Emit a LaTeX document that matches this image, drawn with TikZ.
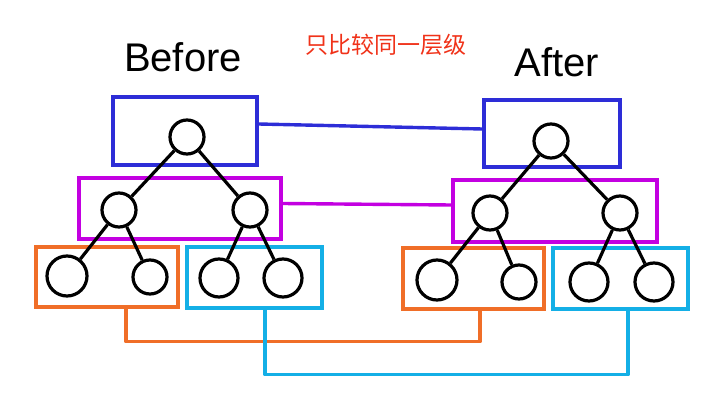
\documentclass[tikz,border=0pt]{standalone}
\usepackage{fontspec}
\setmainfont{Liberation Sans}
\newfontfamily\cjk{Noto Sans CJK SC}
\definecolor{levelblue}{RGB}{45,45,215}
\definecolor{levelpurple}{RGB}{195,0,225}
\definecolor{levelorange}{RGB}{240,110,40}
\definecolor{levelcyan}{RGB}{20,175,230}
\definecolor{notered}{RGB}{240,50,25}
\begin{document}
\begin{tikzpicture}
[x=1pt,y=-1pt,
  nodedecorate/.style={shape=circle,inner sep=0pt,draw,line width=3.2pt},%
  linedecorate/.style={-,line width=3.2pt},
  boxdecorate/.style={shape=rectangle,inner sep=0pt,draw,line width=3.4pt},
  joindecorate/.style={-,line width=3.4pt,line join=round}]
\useasboundingbox (0,0) rectangle (726,404);
%% titles
\node (before) at (183,57) {\fontsize{40}{40}\selectfont Before};
\node (after) at (557,62) {\fontsize{40}{40}\selectfont After};
\node[text=notered] (note) at (386,45) {\cjk\fontsize{23}{23}\selectfont 只比较同一层级};
%% level boxes
\foreach \boxname/\x/\y/\w/\h/\colour in {bl/185/131/144/68/levelblue,
  br/552/133.5/136/67/levelblue, pl/180/208.5/202/61/levelpurple,
  pr/555/211/204/62/levelpurple, ol/107/277/142/60/levelorange,
  cl/254.5/277.5/135/61/levelcyan, or/473.5/278.5/141/61/levelorange,
  cr/620.5/278.5/135/61/levelcyan}
{
  \node (\boxname) at (\x,\y) [boxdecorate,draw=\colour,minimum width=\w,
    minimum height=\h] {};
}
%% nodes or vertices
\foreach \nodename/\x/\y/\r in {rl/187/137/17, al/119/210/17, bl2/250/210/17,
  cl1/67/276/20, cl2/150/277/17, cl3/219/278/19, cl4/283/278/19,
  rr/551/141/17, ar/490/213/17, br2/620/213/17,
  cr1/437/280/20, cr2/519/282/17, cr3/589/282/19, cr4/654/282/19}
{
  \node (\nodename) at (\x,\y) [nodedecorate,minimum size=2*\r] {};
}
%% edges or lines
\path
\foreach \startnode/\endnode in {rl/al, rl/bl2, al/cl1, al/cl2, bl2/cl3,
  bl2/cl4, rr/ar, rr/br2, ar/cr1, ar/cr2, br2/cr3, br2/cr4} {
  (\startnode) edge[linedecorate] (\endnode)
};
%% level links
\draw[joindecorate,levelblue] ([yshift=7pt]bl.east) -- ([yshift=4.5pt]br.west);
\draw[joindecorate,levelpurple] ([yshift=5pt]pl.east) -- ([yshift=6pt]pr.west);
\draw[joindecorate,levelorange] ([xshift=19pt]ol.south) -- ++(0,33)
  -| ([xshift=6.5pt]or.south);
\draw[joindecorate,levelcyan] ([xshift=10.5pt]cl.south) -- ++(0,65)
  -| ([xshift=7.5pt]cr.south);
\end{tikzpicture}
\end{document}
